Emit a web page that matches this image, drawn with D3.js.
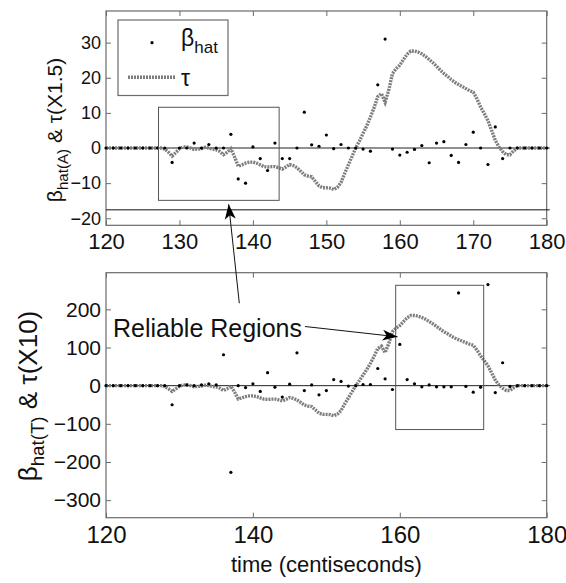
<!DOCTYPE html>
<html>
<head>
<meta charset="utf-8">
<script src="https://cdn.jsdelivr.net/npm/d3@7"></script>
<style>
  body { margin: 0; background: #fff; }
  svg { display: block; font-family: "Liberation Sans", Arial, Helvetica, sans-serif; }
</style>
</head>
<body>
<div id="vis"></div>
<script>
// time axis (centiseconds)
const xTicksTop = [120, 130, 140, 150, 160, 170, 180];
const xTicksBottom = [120, 140, 160, 180];
const yTicksTop = [-20, -10, 0, 10, 20, 30];
const yTicksBottom = [-300, -200, -100, 0, 100, 200];

// beta_hat estimates, one per centisecond from 120 to 180
const betaTimes = d3.range(120, 181);
const betaA = [0, 0, 0, 0, 0, 0, 0, 0, 0,
  -4.1, 0, 0, 1.4, 0, 1.0, 0, 0, 3.9, -8.8, -10.0,
  0.3, -3.0, -6.4, 1.4, -3.0, -3.0, 0, 10.2, 0.9, 0.5,
  3.7, -0.2, 1.0, 0, 0, -0.3, -0.9, 18.0, 31.0, -0.3,
  -2.0, -1.2, -0.4, 0.7, -4.2, 1.4, 1.8, -2.1, -4.1, 1.0,
  4.5, 0, -4.7, 6.0, -3.0, 0,
  0, 0, 0, 0, 0];
const betaT = [0, 0, 0, 0, 0, 0, 0, 0, 0,
  -50, 0, 2, 0, 2, 5, 2, 81, -227, 0, -5,
  5, -15, 34, -4, -30, 4, 86, -13, 2, -24,
  -13, 16, 11, -1, 0, 3, 3, 45, 18, -10,
  108, 16, 5, -3, 2, -3, -3, -3, 243, -2,
  -17, -4, 265, -18, 60, -2,
  0, 0, 0, 0, 0];

// tau, sampled every half centisecond from 120 to 180 (unscaled)
const tauTimes = d3.range(120, 180.25, 0.5);
const tau = [0, 0, 0, 0, 0, 0, 0, 0, 0, 0, 0, 0, 0, 0, 0, 0,
  -0.2, -0.8, -1.53, -0.87, -0.13, 0.2, 0.2, 0, -0.27, -0.2,
  -0.13, 0.13, 0, -0.2, -0.33, -0.67, -1.27, -0.8, -0.13, -1.67,
  -3.47, -3.2, -2.87, -2.67, -2.67, -2.87, -3.2, -3.53, -3.6, -3.53,
  -3.53, -3.73, -4.0, -3.6, -3.13, -3.33, -3.73, -4.4, -5.07, -5.33,
  -5.47, -6.33, -7.2, -7.53, -7.53, -7.6, -7.87, -7.47, -6.53, -4.8,
  -3.2, -1.6, 0, 1.33, 2.8, 4.2, 5.87, 7.67, 9.73, 10.33,
  8.67, 11.0, 14.13, 15.07, 15.73, 16.8, 17.8, 18.4, 18.4, 18.2,
  17.87, 17.4, 16.8, 16.2, 15.53, 14.8, 14.13, 13.6, 13.0, 12.47,
  12.07, 11.67, 11.27, 10.87, 10.6, 9.33, 7.8, 6.53, 5.2, 3.33,
  1.47, 0.2, -0.67, -1.27, -1.27, -0.53, 0,
  0, 0, 0, 0, 0, 0, 0, 0];

// annotations
const thresholdA = -17.6;
const boxA = { t0: 127.15, t1: 143.57, v0: -14.9, v1: 11.6 };
const boxT = { t0: 159.44, t1: 171.42, v0: -115, v1: 263 };

const W = 566, H = 583;
const svg = d3.select('#vis').append('svg').attr('width', W).attr('height', H);

const defs = svg.append('defs');
defs.append('marker')
  .attr('id', 'head')
  .attr('markerUnits', 'userSpaceOnUse')
  .attr('viewBox', '-16 -7 18 14')
  .attr('markerWidth', 18).attr('markerHeight', 14)
  .attr('refX', 0).attr('refY', 0)
  .attr('orient', 'auto')
  .append('path')
    .attr('d', 'M0,0 L-15,-5.5 L-11,0 L-15,5.5 Z')
    .attr('fill', '#000');

function drawPanel(cfg) {
  const x = d3.scaleLinear().domain([120, 180]).range([cfg.x0, cfg.x1]);
  const y = d3.scaleLinear().domain(cfg.yDomain).range([cfg.y1, cfg.y0]);
  const g = svg.append('g');
  const frame = '#6b6b6b';

  // ticks, pointing inward on all four sides
  const axes = [
    [d3.axisBottom(x).tickValues(cfg.xTicks), `translate(0,${cfg.y1})`, true],
    [d3.axisTop(x).tickValues(cfg.xTicks), `translate(0,${cfg.y0})`, false],
    [d3.axisLeft(y).tickValues(cfg.yTicks), `translate(${cfg.x0},0)`, true],
    [d3.axisRight(y).tickValues(cfg.yTicks), `translate(${cfg.x1},0)`, false]
  ];
  axes.forEach(([ax, tr, labels], i) => {
    const a = g.append('g')
      .attr('transform', tr)
      .call(ax.tickSizeInner(-5).tickSizeOuter(0).tickPadding(i === 0 ? cfg.xPad : 5));
    a.select('.domain').remove();
    a.selectAll('.tick line').attr('stroke', frame);
    if (!labels) a.selectAll('.tick text').remove();
    else {
      a.selectAll('.tick text')
        .attr('fill', '#111')
        .style('font-family', '"Liberation Sans", Arial, sans-serif')
        .style('font-size', (i === 0 ? cfg.xFont : cfg.yFont) + 'px');
    }
  });

  g.append('rect')
    .attr('x', cfg.x0).attr('y', cfg.y0)
    .attr('width', cfg.x1 - cfg.x0).attr('height', cfg.y1 - cfg.y0)
    .attr('fill', 'none').attr('stroke', frame).attr('stroke-width', 1.2);

  // zero line
  g.append('line')
    .attr('x1', x(120)).attr('x2', x(180) + 3)
    .attr('y1', y(0)).attr('y2', y(0))
    .attr('stroke', '#222').attr('stroke-width', 1);

  // tau (dotted thick gray)
  const line = d3.line()
    .x((d, i) => x(tauTimes[i]))
    .y(d => y(d * cfg.tauScale));
  g.append('path')
    .datum(tau)
    .attr('d', line)
    .attr('fill', 'none')
    .attr('stroke', '#7d7d7d')
    .attr('stroke-width', 3.4)
    .attr('stroke-dasharray', '2,1');

  // beta_hat dots
  g.selectAll('circle.beta')
    .data(cfg.beta)
    .join('circle')
      .attr('class', 'beta')
      .attr('cx', (d, i) => x(betaTimes[i]))
      .attr('cy', d => y(d))
      .attr('r', 1.6)
      .attr('fill', '#000');

  // reliable region box
  g.append('rect')
    .attr('x', x(cfg.box.t0)).attr('y', y(cfg.box.v1))
    .attr('width', x(cfg.box.t1) - x(cfg.box.t0))
    .attr('height', y(cfg.box.v0) - y(cfg.box.v1))
    .attr('fill', 'none').attr('stroke', '#555').attr('stroke-width', 1);

  // y label
  const lab = g.append('text')
    .attr('transform', `translate(${cfg.labX},${cfg.labY}) rotate(-90)`)
    .attr('text-anchor', 'middle')
    .style('font-size', cfg.labFont + 'px')
    .attr('fill', '#111');
  lab.append('tspan').text('β');
  lab.append('tspan').attr('dy', cfg.labFont * 0.28)
    .style('font-size', (cfg.labFont * 0.72) + 'px').text(cfg.sub);
  lab.append('tspan').attr('dy', -cfg.labFont * 0.28).text(' & τ(' + cfg.scaleLabel + ')');

  return { x, y, g };
}

const panelA = drawPanel({
  x0: 106, x1: 546.7, y0: 11, y1: 225.3,
  yDomain: [-22, 39], xTicks: xTicksTop, yTicks: yTicksTop,
  xFont: 22, yFont: 18, xPad: 8,
  tauScale: 1.5, beta: betaA, box: boxA,
  labX: 62, labY: 130, labFont: 21, sub: 'hat(A)', scaleLabel: 'X1.5'
});

const panelT = drawPanel({
  x0: 106, x1: 546.7, y0: 272.7, y1: 517.7,
  yDomain: [-346, 296], xTicks: xTicksBottom, yTicks: yTicksBottom,
  xFont: 24, yFont: 21, xPad: 8,
  tauScale: 10, beta: betaT, box: boxT,
  labX: 37, labY: 396, labFont: 26, sub: 'hat(T)', scaleLabel: 'X10'
});

// threshold line in the top panel
panelA.g.append('line')
  .attr('x1', panelA.x(120)).attr('x2', panelA.x(180) + 3)
  .attr('y1', panelA.y(thresholdA)).attr('y2', panelA.y(thresholdA))
  .attr('stroke', '#111').attr('stroke-width', 1);

// legend
const leg = panelA.g.append('g');
leg.append('rect')
  .attr('x', 118).attr('y', 20).attr('width', 110).attr('height', 75.5)
  .attr('fill', '#fff').attr('stroke', '#6b6b6b').attr('stroke-width', 1.2);
leg.append('circle').attr('cx', 152).attr('cy', 42.7).attr('r', 1.6).attr('fill', '#000');
const lt = leg.append('text').attr('x', 181).attr('y', 46).attr('fill', '#111').style('font-size', '23px');
lt.append('tspan').text('β');
lt.append('tspan').attr('dy', 7).style('font-size', '17px').text('hat');
leg.append('line')
  .attr('x1', 128).attr('x2', 176).attr('y1', 77.3).attr('y2', 77.3)
  .attr('stroke', '#7d7d7d').attr('stroke-width', 3.4).attr('stroke-dasharray', '2,1');
leg.append('text').attr('x', 181).attr('y', 86).attr('fill', '#111')
  .style('font-size', '23px').text('τ');

// annotation: "Reliable Regions" with arrows
svg.append('text')
  .attr('x', panelT.x(120.95)).attr('y', panelT.y(128))
  .attr('fill', '#111').style('font-size', '25px')
  .text('Reliable Regions');

svg.append('line')
  .attr('x1', panelT.x(147.1)).attr('y1', panelT.y(155))
  .attr('x2', panelT.x(159.69)).attr('y2', panelT.y(128))
  .attr('stroke', '#111').attr('stroke-width', 1)
  .attr('marker-end', 'url(#head)');

svg.append('line')
  .attr('x1', panelT.x(138.15)).attr('y1', panelT.y(216))
  .attr('x2', panelA.x(136.7)).attr('y2', panelA.y(-16))
  .attr('stroke', '#111').attr('stroke-width', 1)
  .attr('marker-end', 'url(#head)');

svg.append('text')
  .attr('x', (panelT.x(120) + panelT.x(180)) / 2).attr('y', 572)
  .attr('text-anchor', 'middle').attr('fill', '#111')
  .style('font-size', '22px')
  .text('time (centiseconds)');
</script>
</body>
</html>
